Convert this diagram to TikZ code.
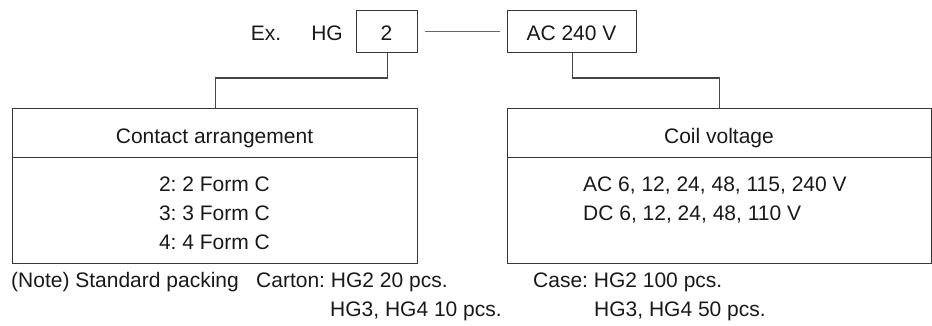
\documentclass[tikz,border=0pt]{standalone}
\usepackage{fontspec}
\setmainfont{Liberation Sans}
\frenchspacing
\begin{document}
\begin{tikzpicture}[x=1pt,y=-1pt,
  box/.style={draw=black!78, line width=1.2pt, inner sep=0pt, anchor=north west},
  conn/.style={draw=black!72, line width=1.2pt},
  lbl/.style={inner sep=0pt, font=\fontsize{21}{25}\selectfont\frenchspacing, text=black!90}]
\useasboundingbox (0,0) rectangle (932,325);
% top boxes
\node[box, minimum width=61pt, minimum height=42pt] (two) at (356,10) {};
\node[box, minimum width=129pt, minimum height=42pt] (ac) at (507,10) {};
\node[lbl, anchor=base] (ex) at (266,40) {Ex.};
\node[lbl, anchor=base] (hg) at (327,40) {HG};
\node[lbl, anchor=base] (twot) at (386.5,40) {2};
\node[lbl, anchor=base] (act) at (571.5,40) {AC 240 V};
% lower boxes
\node[box, minimum width=405pt, minimum height=49pt] (cah) at (12,108) {};
\node[box, minimum width=405pt, minimum height=106pt] (cab) at (12,157) {};
\node[box, minimum width=424pt, minimum height=49pt] (cvh) at (507,108) {};
\node[box, minimum width=424pt, minimum height=106pt] (cvb) at (507,157) {};
\node[lbl, anchor=base] (caht) at (214.5,143) {Contact arrangement};
\node[lbl, anchor=base] (ca1) at (214.5,191) {2: 2 Form C};
\node[lbl, anchor=base] (ca2) at (214.5,220) {3: 3 Form C};
\node[lbl, anchor=base] (ca3) at (214.5,249) {4: 4 Form C};
\node[lbl, anchor=base] (cvht) at (719,143) {Coil voltage};
\node[lbl, anchor=base west] (cv1) at (583,191) {AC 6, 12, 24, 48, 115, 240 V};
\node[lbl, anchor=base west] (cv2) at (583,220) {DC 6, 12, 24, 48, 110 V};
% notes
\node[lbl, anchor=base west] (n1) at (11,287.5) {(Note) Standard packing};
\node[lbl, anchor=base west] (n2) at (256,287.5) {Carton: HG2 20 pcs.};
\node[lbl, anchor=base west] (n3) at (330,316.5) {HG3, HG4 10 pcs.};
\node[lbl, anchor=base west] (n4) at (533,287.5) {Case: HG2 100 pcs.};
\node[lbl, anchor=base west] (n5) at (594,316.5) {HG3, HG4 50 pcs.};
% connectors
\draw[conn, draw=black!60, shorten <=7pt, shorten >=7pt] (two.east) -- (ac.west);
\draw[conn] (two.south) -- (two.south |- 0,78) -| (cah.north);
\draw[conn] (ac.south) -- (ac.south |- 0,78) -| (cvh.north);
\end{tikzpicture}
\end{document}
